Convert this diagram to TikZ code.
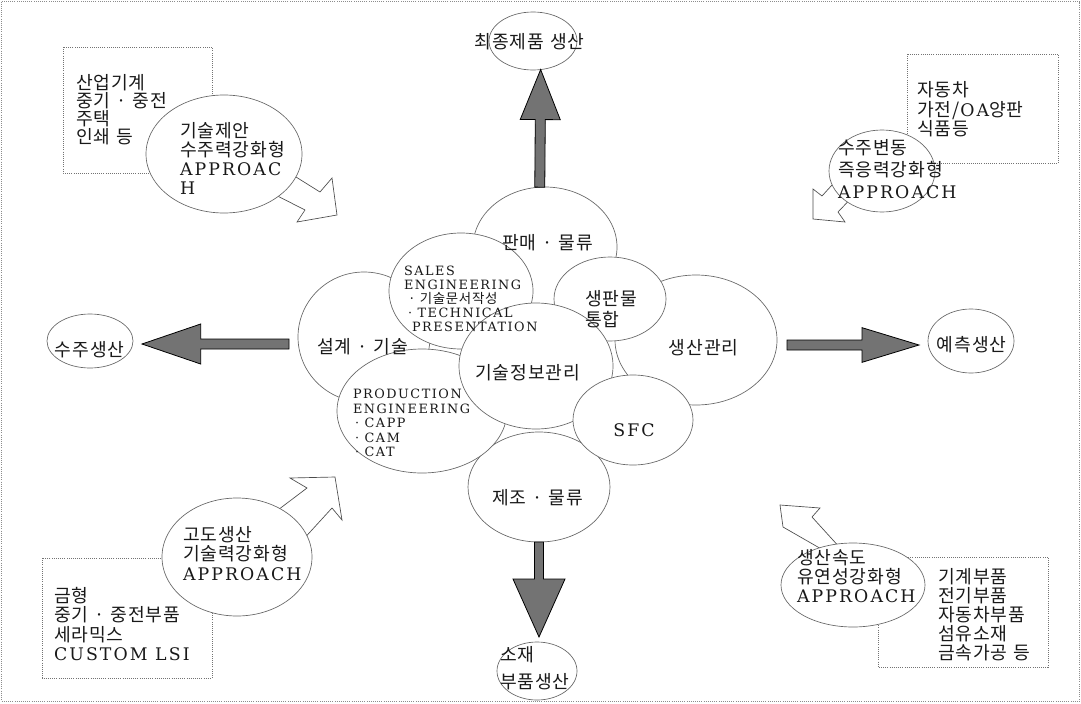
\documentclass[tikz,border=0pt]{standalone}
\usepackage{fontspec}
\setmainfont{DejaVu Serif}[LetterSpace=12]
\newfontfamily\krfont{Noto Sans CJK KR}[Scale=1.05]
\usetikzlibrary{shapes.geometric,calc}
\makeatletter
\def\hk@end{}
\def\hk@loop#1{\ifx#1\hk@end\else#1\kern0.05em\relax\expandafter\hk@loop\fi}
\newcommand\hk[1]{{\krfont\hk@loop#1\hk@end}}
\makeatother
\newcommand\fsz[2]{\fontsize{#1pt}{#2pt}\selectfont}
\lineskiplimit=-100pt
\tikzset{
  el/.style 2 args={ellipse, draw=black!60, line width=0.5pt, fill=white,
    minimum width=#1*1.5pt, minimum height=#2*1.5pt, inner sep=0pt, outer sep=0pt},
  tx/.style={inner sep=0pt, outer sep=0pt, align=left, text=black!90},
  box/.style={draw=black!55, densely dotted, line width=0.6pt},
  frame/.style={draw=black!45, densely dotted, line width=0.6pt},
  hollow/.style={draw=black!70, fill=white, line width=0.5pt, line join=miter},
  bigarr/.style={fill=black!55, draw=black, line width=0.6pt, line join=miter},
}
\newcommand\fatarrow[5]{%
  \coordinate (fa-b) at ($(#2)!#4!(#1)$);
  \filldraw[bigarr] ($(#1)!#3!90:(#2)$) -- ($(fa-b)!#3!-90:(#1)$) -- ($(fa-b)!#5!-90:(#1)$) -- (#2) -- ($(fa-b)!#5!90:(#1)$) -- ($(fa-b)!#3!90:(#1)$) -- ($(#1)!#3!-90:(#2)$) -- cycle;}
\begin{document}
\begin{tikzpicture}[x=0.75pt,y=-0.75pt]
\useasboundingbox (0,0) rectangle (1081,703);
\draw[frame] (1.5,1.5) rectangle (1079.5,701);

% corner boxes
\draw[box] (63,47) rectangle (212,173);
\draw[box] (907,54) rectangle (1058,163);
\draw[box] (42,558) rectangle (212,678);
\draw[box] (878,557) rectangle (1048,667);

% hollow arrows
\draw[hollow] (272,162) -- (320,192) -- (332,178) -- (337,215) -- (297,222) -- (305,210) -- (254,184) -- cycle;
\draw[hollow] (842,174) -- (822,196) -- (813,189) -- (813,219) -- (845,222) -- (838,212) -- (860,189) -- cycle;
\draw[hollow] (270,516) -- (307,488) -- (290,478) -- (335,477) -- (342,520) -- (332,508) -- (300,543) -- cycle;
\draw[hollow] (830,554) -- (783,527) -- (780,505) -- (820,508) -- (812,517) -- (842,550) -- cycle;

% corner ellipses
\node[el={78}{59}] (tle) at (224,154) {};
\node[el={53}{41}] (tre) at (882,171) {};
\node[el={75}{59}] (ble) at (237,557) {};
\node[el={72}{42}] (bre) at (853,585) {};

% central cluster
\node[el={72}{60}] (panmae) at (545,247) {};
\node[el={66}{65}] (sg) at (364,337) {};
\node[el={81}{65}] (sk) at (696,340) {};
\node[el={71}{55}] (zejo) at (539,487) {};
\node[el={72}{58}] (sales) at (461,291) {};
\node[el={85}{62}] (prod) at (422,411) {};
\node[el={56}{42}] (sp) at (610,299) {};
\node[el={77}{63}] (gi) at (536,366) {};
\node[el={60}{45}] (sfc) at (633,420) {};

% outer ellipses
\node[el={44}{29}] (final) at (533,41) {};
\node[el={43}{27}] (sj) at (90,341) {};
\node[el={43}{32}] (ye) at (971,341) {};
\node[el={40}{29}] (sojae) at (537,671) {};

% big arrows
\fatarrow{panmae.95}{final.-75}{3.75pt}{37.5pt}{15pt}
\coordinate (da-t) at ($(zejo.south |- sojae.north)+(0,-5)$);
\fatarrow{zejo.south}{da-t}{3.4pt}{43.5pt}{19.5pt}
\coordinate (la-s) at ($(sg.west)+(-9,7)$);
\coordinate (la-t) at ($(sj.east)+(9,3)$);
\fatarrow{la-s}{la-t}{3.75pt}{44pt}{15pt}
\coordinate (ra-s) at ($(sk.east)+(10,5)$);
\coordinate (ra-t) at ($(ye.west)+(-9,4)$);
\fatarrow{ra-s}{ra-t}{3.75pt}{42.75pt}{13pt}

% texts
\node[tx, anchor=west, font=\fsz{13}{13.5}] (t-tlr) at (76,110) {\hk{산업기계}\\\hk{중기~·~중전}\\\hk{주택}\\\hk{인쇄~등}};
\node[tx, anchor=west, font=\fsz{13}{14.25}] (t-tle) at (180,158.5) {\hk{기술제안}\\\hk{수주력강화형}\\APPROAC\\H};
\node[tx, anchor=west, font=\fsz{13}{14.6}] (t-trr) at (917,109.5) {\hk{자동차}\\\hk{가전/}OA\hk{양판}\\\hk{식품등}};
\node[tx, anchor=west, font=\fsz{13}{16.5}] (t-tre) at (838,169.5) {\hk{수주변동}\\\hk{즉응력강화형}\\APPROACH};
\node[tx, anchor=west, font=\fsz{13}{14.6}] (t-ble) at (183,553.5) {\hk{고도생산}\\\hk{기술력강화형}\\APPROACH};
\node[tx, anchor=west, font=\fsz{13}{14.5}] (t-blr) at (54,624) {\hk{금형}\\\hk{중기~·~중전부품}\\\hk{세라믹스}\\CUSTOM LSI};
\node[tx, anchor=west, font=\fsz{13}{14.25}] (t-bre) at (797,576) {\hk{생산속도}\\\hk{유연성강화형}\\APPROACH};
\node[tx, anchor=west, font=\fsz{13}{14.25}] (t-brr) at (938,615) {\hk{기계부품}\\\hk{전기부품}\\\hk{자동차부품}\\\hk{섬유소재}\\\hk{금속가공~등}};

\node[tx, anchor=west, font=\fsz{9.6}{10.5}] (t-sales) at (404,299) {SALES\\ENGINEERING\\\hspace*{3pt}\hk{·~기술문서작성}\\\hspace*{3pt}· TECHNICAL\\\hspace*{6pt}PRESENTATION};
\node[tx, anchor=west, font=\fsz{9.6}{10.9}] (t-prod) at (353,423) {PRODUCTION\\ENGINEERING\\\hspace*{1.5pt}· CAPP\\\hspace*{1.5pt}· CAM\\\hspace*{1.5pt}· CAT};
\node[tx, font=\fsz{13}{14}] (t-pan) at (548,243) {\hk{판매~·~물류}};
\node[tx, font=\fsz{13}{14}] (t-sg) at (363,347) {\hk{설계~·~기술}};
\node[tx, anchor=west, font=\fsz{13}{15.75}] (t-sp) at (585,309.5) {\hk{생판물}\\\hk{통합}};
\node[tx, font=\fsz{13}{14}] (t-sk) at (704,348) {\hk{생산관리}};
\node[tx, font=\fsz{13}{14}] (t-gi) at (528,373) {\hk{기술정보관리}};
\node[tx, font=\fsz{13}{14}] (t-sfc) at (634,430) {SFC};
\node[tx, font=\fsz{13}{14}] (t-zejo) at (538,498) {\hk{제조~·~물류}};

\node[tx, font=\fsz{13}{14}] (t-final) at (530,42) {\hk{최종제품~생산}};
\node[tx, font=\fsz{13}{14}] (t-sj) at (90,350) {\hk{수주생산}};
\node[tx, font=\fsz{13}{14}] (t-ye) at (972,345) {\hk{예측생산}};
\node[tx, anchor=west, font=\fsz{13}{20}] (t-sojae) at (500,668.5) {\hk{소재}\\\hk{부품생산}};
\end{tikzpicture}
\end{document}
